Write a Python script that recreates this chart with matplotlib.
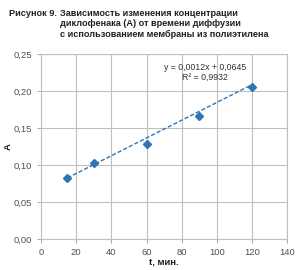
import matplotlib
matplotlib.use("Agg")
import matplotlib.pyplot as plt
import numpy as np

plt.rcParams['font.family'] = ['Liberation Sans', 'DejaVu Sans']

t = [15, 30, 60, 90, 120]
A = [0.082, 0.103, 0.128, 0.166, 0.206]
slope, intercept = 0.0012, 0.0645
eq_text = "y = 0,0012x + 0,0645\nR² = 0,9932"
xticks = [0, 20, 40, 60, 80, 100, 120, 140]
yticks = [0.0, 0.05, 0.10, 0.15, 0.20, 0.25]
ytick_labels = ["0,00", "0,05", "0,10", "0,15", "0,20", "0,25"]

fig = plt.figure(figsize=(3.0, 2.7), dpi=100)
ax = fig.add_axes([0.137, 0.115, 0.82, 0.685])
color = "#2E75B6"
xf = np.array([t[0], t[-1]])
ax.plot(xf, slope * xf + intercept, linestyle=(0, (3, 1.5)), color=color, lw=1.0)
ax.plot(t, A, linestyle="none", marker="D", markersize=3.8, color=color)
ax.set_xlim(0, 140)
ax.set_ylim(0, 0.25)
ax.set_xticks(xticks)
ax.set_yticks(yticks)
ax.set_yticklabels(ytick_labels)
ax.tick_params(labelsize=6.8, colors="#505050", length=3, width=0.6, color="#999999")
ax.grid(True, color="#bfbfbf", lw=0.8)
ax.set_axisbelow(True)
for s in ax.spines.values():
    s.set_color("#bfbfbf")
    s.set_linewidth(0.8)
ax.set_xlabel("t, мин.", fontsize=6.8, fontweight="bold", color="#202020")
ax.xaxis.set_label_coords(0.5, -0.1)
ax.set_ylabel("A", fontsize=6.8, fontweight="bold", color="#202020")
ax.yaxis.set_label_coords(-0.115, 0.5)
ax.text(0.667, 0.90, eq_text, transform=ax.transAxes, ha="center", va="center",
        fontsize=6.3, color="#303030", linespacing=1.1)

fig.text(0.03, 0.968, "Рисунок 9.", fontsize=6.6, fontweight="bold", ha="left", va="top", color="#202020")
fig.text(0.2, 0.968, "Зависимость изменения концентрации\nдиклофенака (А) от времени диффузии\nс использованием мембраны из полиэтилена",
         fontsize=6.6, fontweight="bold", ha="left", va="top", color="#202020", linespacing=1.25)
fig.savefig("out.png", dpi=100)
